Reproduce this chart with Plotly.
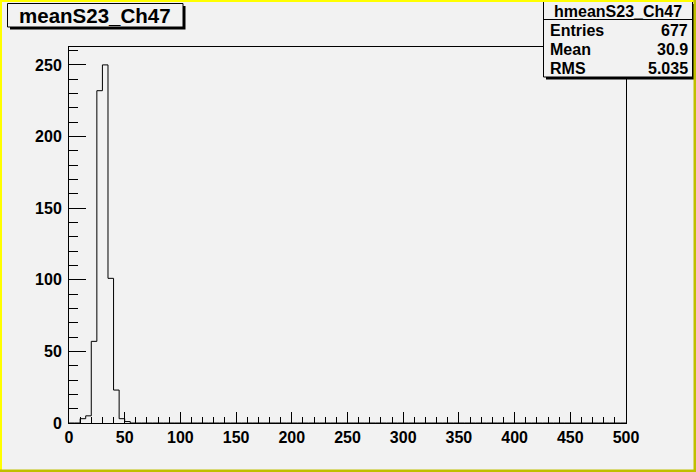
import numpy as np
import plotly.graph_objects as go

# ---- data ----
hist_title = "meanS23_Ch47"
stats_name = "hmeanS23_Ch47"
stats_labels = ["Entries", "Mean", "RMS"]
stats_values = ["677", "30.9", "5.035"]
x_min, x_max, n_bins = 0, 500, 100
# bin contents for bins starting at 0, width 5 (rest are empty)
counts_head = [0, 0, 3, 5, 57, 232, 250, 101, 23, 3, 1]
counts = counts_head + [0] * (n_bins - len(counts_head))
x_ticks = list(range(0, 501, 50))
y_ticks = list(range(0, 251, 50))

edges = np.linspace(x_min, x_max, n_bins + 1)
y_max = 1.05 * max(counts)

W, H = 696, 472
L, R, T, B = 69, 626, 47, 423
BG = "#f2f2f2"


def px(x):
    return (x - L) / (R - L)


def py(y):
    return (B - y) / (B - T)


xs = list(edges)
ys = counts + [counts[-1]]

fig = go.Figure()
fig.add_trace(go.Scatter(
    x=xs, y=ys, mode="lines", line=dict(shape="hv", color="black", width=1),
    hoverinfo="skip", showlegend=False))

tickfont = dict(family="Liberation Sans, Arial, sans-serif", size=16, color="black", weight="bold")

fig.update_layout(
    width=W, height=H,
    margin=dict(l=L, r=W - R, t=T, b=H - B, pad=0),
    paper_bgcolor=BG, plot_bgcolor=BG,
    showlegend=False,
    xaxis=dict(range=[x_min, x_max], tickvals=x_ticks, ticks="inside", ticklen=11,
               tickcolor="black", tickwidth=1, showline=True, linecolor="black",
               linewidth=1, mirror=True, showgrid=False, zeroline=False,
               tickfont=tickfont,
               minor=dict(dtick=10, ticks="inside", ticklen=6, tickcolor="black", showgrid=False)),
    yaxis=dict(range=[0, y_max], tickvals=y_ticks, ticks="inside", ticklen=17,
               tickcolor="black", tickwidth=1, showline=True, linecolor="black",
               linewidth=1, mirror=True, showgrid=False, zeroline=False,
               tickfont=tickfont, ticklabelstandoff=3,
               minor=dict(dtick=10, ticks="inside", ticklen=8.5, tickcolor="black", showgrid=False)),
)

shapes = []


def rect(x0, y0, x1, y1, fill, line_color=None, lw=0):
    shapes.append(dict(type="rect", xref="paper", yref="paper",
                       x0=px(x0), x1=px(x1), y0=py(y1), y1=py(y0),
                       fillcolor=fill, layer="above",
                       line=dict(color=line_color or fill, width=lw)))


def hline(x0, x1, y):
    shapes.append(dict(type="line", xref="paper", yref="paper",
                       x0=px(x0), x1=px(x1), y0=py(y), y1=py(y), layer="above",
                       line=dict(color="black", width=1)))


# title box with shadow
rect(10, 6, 185.5, 29.5, "black")
rect(7.5, 3.5, 183, 27, BG, "black", 1)
# stats box with shadow
rect(546, 4, 695, 79.5, "black")
rect(543.5, 1, 692.5, 77, BG, "black", 1)
hline(543.5, 692.5, 19.5)
# canvas border
rect(0, 0, 2, H, "#ffff00")
rect(0, 0, W, 2, "#ffff00")
rect(W - 2.5, 0, W, H, "#bfbf00")
rect(0, H - 2.5, W, H, "#bfbf00")
fig.update_layout(shapes=shapes)

ann = []
ann.append(dict(text=hist_title, x=px(95), y=py(15.5), xref="paper", yref="paper",
                showarrow=False, xanchor="center", yanchor="middle",
                font=dict(family="Liberation Sans, Arial, sans-serif", size=20.5,
                          color="black", weight="bold")))
sfont = dict(family="Liberation Sans, Arial, sans-serif", size=16, color="black", weight="bold")
ann.append(dict(text=stats_name, x=px(617.5), y=py(11), xref="paper", yref="paper",
                showarrow=False, xanchor="center", yanchor="middle", font=sfont))
rows_y = [30.5, 49.5, 68]
for lab, val, yy in zip(stats_labels, stats_values, rows_y):
    ann.append(dict(text=lab, x=px(548), y=py(yy), xref="paper", yref="paper",
                    showarrow=False, xanchor="left", yanchor="middle", font=sfont))
    ann.append(dict(text=val, x=px(689.5), y=py(yy), xref="paper", yref="paper",
                    showarrow=False, xanchor="right", yanchor="middle", font=sfont))
fig.update_layout(annotations=ann)

fig.write_html("out.html", config={"displayModeBar": False},
               post_script="document.body.style.margin='0px';document.body.style.overflow='hidden';")
